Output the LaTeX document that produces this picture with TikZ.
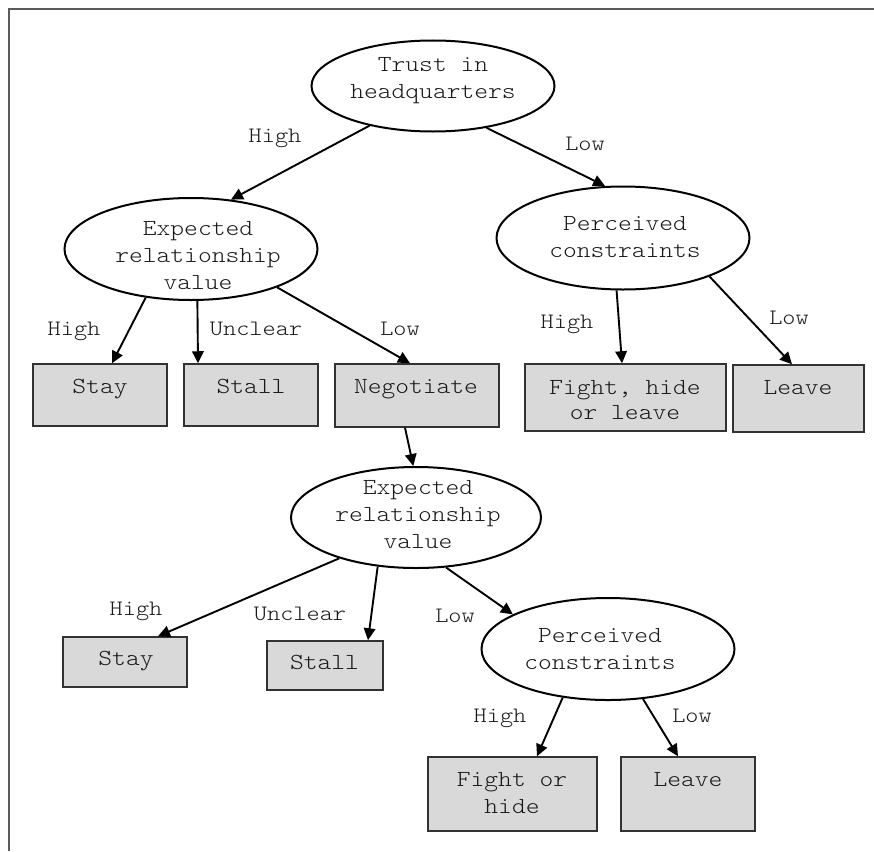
\documentclass[tikz,border=0pt]{standalone}
\usepackage{fontspec}
\setmonofont{Latin Modern Mono Light}[FakeStretch=1.14]
\usetikzlibrary{shapes.geometric,arrows.meta}
\definecolor{txtc}{RGB}{25,25,25}
\definecolor{boxfill}{RGB}{217,217,217}
\definecolor{boxline}{RGB}{50,50,50}
\definecolor{framec}{RGB}{90,90,90}
\begin{document}
\begin{tikzpicture}[x=1pt,y=-1pt,
  oval/.style={ellipse,draw=black,line width=2pt,inner sep=0pt},
  outcome/.style={rectangle,draw=boxline,fill=boxfill,line width=1.5pt,inner sep=0pt},
  words/.style={inner sep=0pt,align=center,text=txtc,font=\ttfamily\fontsize{23}{27}\selectfont},
  oneline/.style={words,text height=13.5pt,text depth=0pt},
  cue/.style={inner sep=0pt,text=txtc,font=\ttfamily\fontsize{22}{26}\selectfont,text height=13pt,text depth=0pt},
  link/.style={line width=1.9pt,-{Triangle[length=12pt,width=11.5pt]}}]
\useasboundingbox (0,0) rectangle (874,851);
\draw[framec,line width=1.5pt] (9,851) -- (9,9) -- (874,9);

% ellipses
\node[oval,minimum width=243pt,minimum height=91pt] (trust) at (433,86) {};
\node[oval,minimum width=253pt,minimum height=102pt] (exp1) at (191,249) {};
\node[oval,minimum width=253pt,minimum height=103pt] (per1) at (623,238) {};
\node[oval,minimum width=250pt,minimum height=101pt] (exp2) at (416,517.5) {};
\node[oval,minimum width=253pt,minimum height=102pt] (per2) at (608,649) {};

\node[words] (trustT) at (433,80.5) {Trust in\\headquarters};
\node[words] (exp1T) at (198,255.5) {Expected\\relationship\\value};
\node[words] (per1T) at (625,237.5) {Perceived\\constraints};
\node[words] (exp2T) at (418,514.5) {Expected\\relationship\\value};
\node[words] (per2T) at (600,649) {Perceived\\constraints};

% boxes
\node[outcome,minimum width=134pt,minimum height=62pt] (stay1) at (100,395) {};
\node[outcome,minimum width=134pt,minimum height=62pt] (stall1) at (251,395) {};
\node[outcome,minimum width=164pt,minimum height=63pt] (neg) at (417,395.5) {};
\node[outcome,minimum width=201pt,minimum height=67pt] (fight1) at (625.5,397.5) {};
\node[outcome,minimum width=131pt,minimum height=67pt] (leave1) at (798.5,398.5) {};
\node[outcome,minimum width=124pt,minimum height=50pt] (stay2) at (125,662) {};
\node[outcome,minimum width=116pt,minimum height=49pt] (stall2) at (325,665.5) {};
\node[outcome,minimum width=169pt,minimum height=74pt] (fight2) at (512.5,794) {};
\node[outcome,minimum width=134pt,minimum height=74pt] (leave2) at (688,794) {};

\node[oneline] (stay1T) at (100,387) {Stay};
\node[oneline] (stall1T) at (251,387) {Stall};
\node[oneline] (negT) at (416,387) {Negotiate};
\node[words,font=\ttfamily\fontsize{23}{25}\selectfont] (fight1T) at (625,400) {Fight, hide\\or leave};
\node[oneline] (leave1T) at (798,388) {Leave};
\node[oneline] (stay2T) at (126,659) {Stay};
\node[oneline] (stall2T) at (324.5,663) {Stall};
\node[words] (fight2T) at (512,793) {Fight or\\hide};
\node[oneline] (leave2T) at (688,780) {Leave};

% labels
\node[cue] (lTH) at (275,136) {High};
\node[cue] (lTL) at (585,144) {Low};
\node[cue] (lE1H) at (74,329) {High};
\node[cue] (lE1U) at (256,329) {Unclear};
\node[cue] (lE1L) at (400,329) {Low};
\node[cue] (lP1H) at (567,322) {High};
\node[cue] (lP1L) at (789,318) {Low};
\node[cue] (lE2H) at (136,609) {High};
\node[cue] (lE2U) at (300,614) {Unclear};
\node[cue] (lE2L) at (455,616) {Low};
\node[cue] (lP2H) at (500,716) {High};
\node[cue] (lP2L) at (692,716) {Low};

% connectors
\draw[link] (trust.212) -- (exp1.51);
\draw[link] (trust.322) -- (per1.109);
\draw[link] (exp1.227) -- ([xshift=12pt]stay1.north);
\draw[link] (exp1.277) -- ([xshift=-53pt]stall1.north);
\draw[link] (exp1.336) -- ([xshift=-7pt]neg.north);
\draw[link] (per1.263) -- ([xshift=-3.5pt]fight1.north);
\draw[link] (per1.336) -- ([xshift=-6.5pt]leave1.north);
\draw[link] ([xshift=-12pt]neg.south) -- (exp2.93);
\draw[link] (exp2.208) -- ([xshift=33pt]stay2.north);
\draw[link] (exp2.232) -- ([xshift=43pt]stall2.north);
\draw[link] (exp2.301) -- (per2.160);
\draw[link] (per2.227) -- ([xshift=24.5pt]fight2.north);
\draw[link] (per2.305) -- ([xshift=-10pt]leave2.north);
\end{tikzpicture}
\end{document}
